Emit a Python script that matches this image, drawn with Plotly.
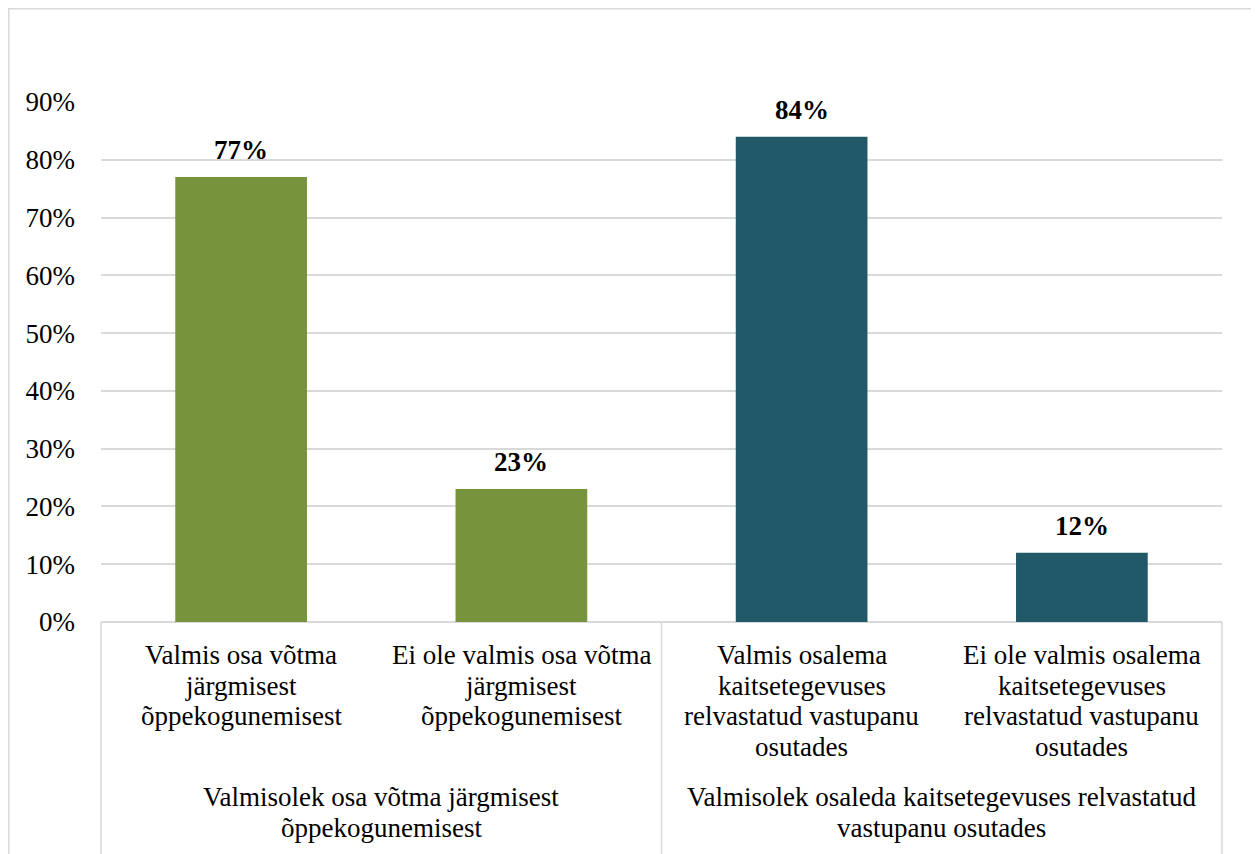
import plotly.graph_objects as go

# --- data ---
CATEGORIES = [
    "Valmis osa võtma järgmisest õppekogunemisest",
    "Ei ole valmis osa võtma järgmisest õppekogunemisest",
    "Valmis osalema kaitsetegevuses relvastatud vastupanu osutades",
    "Ei ole valmis osalema kaitsetegevuses relvastatud vastupanu osutades",
]
CAT_LINES = [
    ["Valmis osa võtma", "järgmisest", "õppekogunemisest"],
    ["Ei ole valmis osa võtma", "järgmisest", "õppekogunemisest"],
    ["Valmis osalema", "kaitsetegevuses", "relvastatud vastupanu", "osutades"],
    ["Ei ole valmis osalema", "kaitsetegevuses", "relvastatud vastupanu", "osutades"],
]
VALUES = [0.77, 0.23, 0.84, 0.12]
CAT_GROUP = [0, 0, 1, 1]
GROUP_LINES = [
    ["Valmisolek osa võtma järgmisest", "õppekogunemisest"],
    ["Valmisolek osaleda kaitsetegevuses relvastatud", "vastupanu osutades"],
]
GROUP_COLORS = ["#77933C", "#215968"]
Y_TICKS = [0, 0.1, 0.2, 0.3, 0.4, 0.5, 0.6, 0.7, 0.8, 0.9]

FONT = "Liberation Serif"
GRID = "#d9d9d9"
FS = 27
LINE_H = 30.5

fig = go.Figure(go.Bar(
    x=CATEGORIES, y=VALUES, width=0.47,
    marker=dict(color=[GROUP_COLORS[g] for g in CAT_GROUP], line=dict(width=0)),
    hoverinfo="skip"))

annotations = []
# value labels above bars
for cat, v in zip(CATEGORIES, VALUES):
    annotations.append(dict(x=cat, xref="x", y=v, yref="y", text=f"<b>{v:.0%}</b>",
                            showarrow=False, yanchor="middle", yshift=27,
                            font=dict(family=FONT, size=FS, color="black")))
# inner category labels, one annotation per line for Excel-like tight spacing
for cat, lines in zip(CATEGORIES, CAT_LINES):
    for i, ln in enumerate(lines):
        annotations.append(dict(x=cat, xref="x", y=0, yref="paper", text=ln,
                                showarrow=False, xanchor="center", yanchor="middle",
                                yshift=-(33 + LINE_H * i),
                                font=dict(family=FONT, size=FS, color="black")))
# group labels
for gi, lines in enumerate(GROUP_LINES):
    for i, ln in enumerate(lines):
        annotations.append(dict(x=0.25 + 0.5 * gi, xref="paper", y=0, yref="paper", text=ln,
                                showarrow=False, xanchor="center", yanchor="middle",
                                yshift=-(175 + LINE_H * i),
                                font=dict(family=FONT, size=FS, color="black")))

shapes = [
    # outer chart border
    dict(type="rect", xref="paper", yref="paper", x0=-0.0823, x1=1.0277, y0=-0.6, y1=1.1793,
         line=dict(color=GRID, width=1.5), layer="below"),
]
# vertical dividers in the category area
for xp in [0, 0.5, 1]:
    shapes.append(dict(type="line", xref="paper", yref="paper", x0=xp, x1=xp, y0=0, y1=-0.6,
                       line=dict(color=GRID, width=1.5)))

fig.update_layout(
    width=1259, height=854,
    margin=dict(l=93, r=45, t=94, b=240),
    paper_bgcolor="white", plot_bgcolor="white",
    font=dict(family=FONT, size=FS, color="black"),
    showlegend=False,
    xaxis=dict(showticklabels=False, showgrid=False, zeroline=False, showline=False,
               ticks="", fixedrange=True),
    yaxis=dict(range=[0, 0.9], tickvals=Y_TICKS, tickformat=".0%", showgrid=True,
               gridcolor=GRID, gridwidth=1.5, zeroline=True, zerolinecolor=GRID,
               zerolinewidth=1.5, showline=False, ticks="", ticklabelstandoff=25,
               tickfont=dict(family=FONT, size=FS, color="black"), fixedrange=True),
    annotations=annotations,
    shapes=shapes,
)

fig.write_html("out.html")
